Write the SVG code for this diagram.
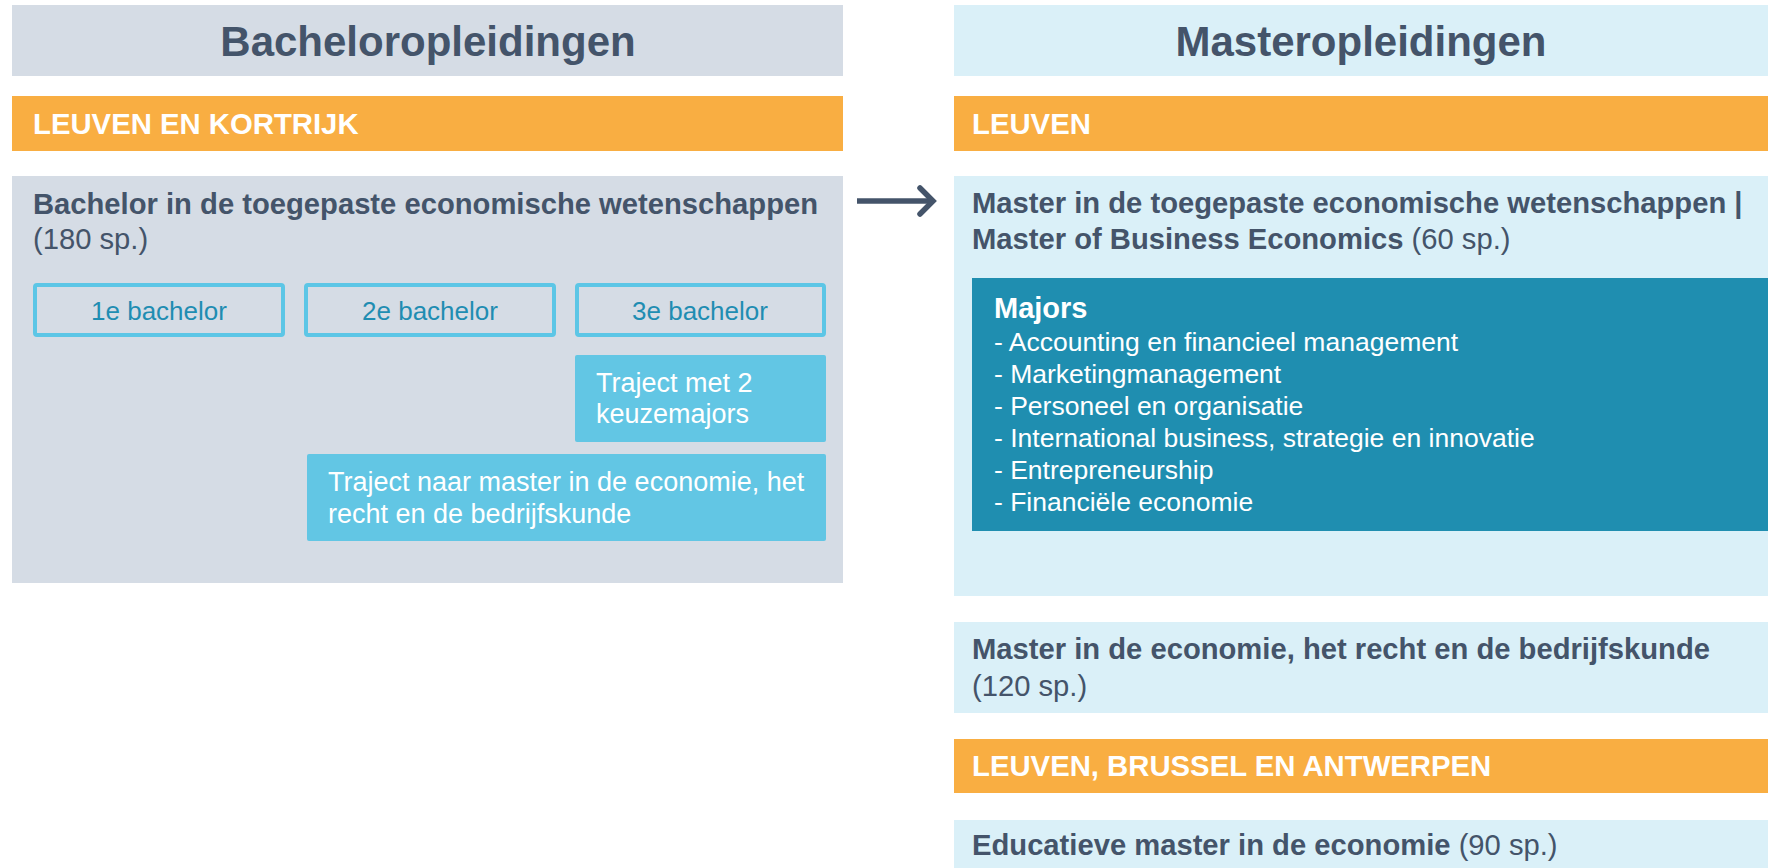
<svg xmlns="http://www.w3.org/2000/svg" width="1768" height="868" viewBox="0 0 1768 868">
<defs>
<style>
text{font-family:"Liberation Sans",Arial,sans-serif;}
.title{font-size:42px;font-weight:bold;fill:#44546A;text-anchor:middle;}
.loc{font-size:29.3px;font-weight:bold;fill:#FFFFFF;}
.prog{font-size:29.2px;fill:#44546A;}
.b{font-weight:bold;}
.yr{font-size:26px;fill:#1F8DB2;text-anchor:middle;}
.tr{font-size:27px;fill:#FFFFFF;}
.mj{font-size:26.5px;fill:#FFFFFF;}
.hdrL{fill:#D5DCE5;}
.hdrR{fill:#DAF0F8;}
.orange{fill:#F9AE42;}
.yearbox{fill:#D5DCE5;stroke:#5CC6E6;stroke-width:4;}
.trbox{fill:#62C6E4;}
</style>
</defs>
<rect width="1768" height="868" fill="#FFFFFF"/>
<g id="bachelor-header">
<rect class="hdrL" x="12" y="5" width="831" height="71"/>
<text class="title" x="428" y="56">Bacheloropleidingen</text>
</g>
<g id="bachelor-location">
<rect class="orange" x="12" y="96" width="831" height="55"/>
<text class="loc" x="33" y="134">LEUVEN EN KORTRIJK</text>
</g>
<g id="bachelor-program">
<rect class="hdrL" x="12" y="176" width="831" height="407"/>
<text class="prog" x="33" y="214"><tspan class="b">Bachelor in de toegepaste economische wetenschappen</tspan></text>
<text class="prog" x="33" y="249">(180 sp.)</text>
</g>
<g id="year1">
<rect class="yearbox" x="35" y="285" width="248" height="50" rx="2"/>
<text class="yr" x="159" y="320">1e bachelor</text>
</g>
<g id="year2">
<rect class="yearbox" x="306" y="285" width="248" height="50" rx="2"/>
<text class="yr" x="430" y="320">2e bachelor</text>
</g>
<g id="year3">
<rect class="yearbox" x="577" y="285" width="247" height="50" rx="2"/>
<text class="yr" x="700" y="320">3e bachelor</text>
</g>
<g id="traject-majors">
<rect class="trbox" x="575" y="355" width="251" height="87" rx="2"/>
<text class="tr" x="596" y="392">Traject met 2</text>
<text class="tr" x="596" y="423">keuzemajors</text>
</g>
<g id="traject-master">
<rect class="trbox" x="307" y="454" width="519" height="87" rx="2"/>
<text class="tr" x="328" y="491">Traject naar master in de economie, het</text>
<text class="tr" x="328" y="523">recht en de bedrijfskunde</text>
</g>
<g id="master-header">
<rect class="hdrR" x="954" y="5" width="814" height="71"/>
<text class="title" x="1361" y="56">Masteropleidingen</text>
</g>
<g id="master-location-leuven">
<rect class="orange" x="954" y="96" width="814" height="55"/>
<text class="loc" x="972" y="134">LEUVEN</text>
</g>
<g id="master-tew">
<rect class="hdrR" x="954" y="176" width="814" height="420"/>
<text class="prog b" x="972" y="213">Master in de toegepaste economische wetenschappen |</text>
<text class="prog" x="972" y="249"><tspan class="b">Master of Business Economics</tspan> (60 sp.)</text>
</g>
<g id="majors">
<rect x="972" y="278" width="796" height="253" fill="#1F8EB0"/>
<text class="mj b" x="994" y="318" style="font-size:29px">Majors</text>
<text class="mj" x="994" y="351">- Accounting en financieel management</text>
<text class="mj" x="994" y="383">- Marketingmanagement</text>
<text class="mj" x="994" y="415">- Personeel en organisatie</text>
<text class="mj" x="994" y="447">- International business, strategie en innovatie</text>
<text class="mj" x="994" y="479">- Entrepreneurship</text>
<text class="mj" x="994" y="511">- Financiële economie</text>
</g>
<g id="master-economie-recht">
<rect class="hdrR" x="954" y="622" width="814" height="91"/>
<text class="prog b" x="972" y="659">Master in de economie, het recht en de bedrijfskunde</text>
<text class="prog" x="972" y="696">(120 sp.)</text>
</g>
<g id="master-location-lba">
<rect class="orange" x="954" y="739" width="814" height="54"/>
<text class="loc" x="972" y="776">LEUVEN, BRUSSEL EN ANTWERPEN</text>
</g>
<g id="master-educatief">
<rect class="hdrR" x="954" y="820" width="814" height="48"/>
<text class="prog" x="972" y="855"><tspan class="b">Educatieve master in de economie</tspan> (90 sp.)</text>
</g>
<g id="connectors">
<path d="M857 201 H931" stroke="#44546A" stroke-width="5.5" fill="none"/>
<path d="M920 188 L933 201 L920 214" stroke="#44546A" stroke-width="5.5" fill="none" stroke-linecap="round" stroke-linejoin="miter"/>
</g>
</svg>
